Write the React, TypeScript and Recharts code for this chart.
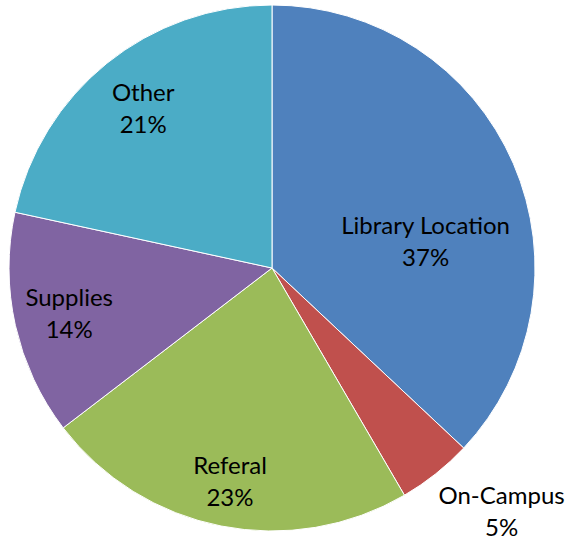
import React from 'react';
import { PieChart, Pie, Cell } from 'recharts';

const categories = ['Library Location', 'On-Campus', 'Referal', 'Supplies', 'Other'];
const values = [37, 4.6, 23, 13.8, 21.6];
const percentLabels = ['37%', '5%', '23%', '14%', '21%'];
const colors = ['#4F81BD', '#C0504D', '#9BBB59', '#8064A2', '#4BACC6'];

// label placement: radius factor and clockwise angle shift (deg) relative to slice mid angle
const labelRadius = [0.593, 1.27, 0.825, 0.79, 0.78];
const labelShift = [13.4, -4.9, 0, 0, 0];

const data = categories.map((name, i) => ({ name, value: values[i], pct: percentLabels[i] }));

const RAD = Math.PI / 180;

const renderLabel = (props: any) => {
  const { cx, cy, midAngle, outerRadius, index } = props;
  const ang = (midAngle - labelShift[index]) * RAD;
  const r = outerRadius * labelRadius[index];
  const x = cx + r * Math.cos(ang);
  const y = cy - r * Math.sin(ang);
  return (
    <text
      x={x}
      y={y}
      textAnchor="middle"
      fill="#000"
      fontFamily="Lato, 'Open Sans', sans-serif"
      fontSize={24}
    >
      <tspan x={x} dy={-7}>{categories[index]}</tspan>
      <tspan x={x} dy={32}>{percentLabels[index]}</tspan>
    </text>
  );
};

export default function App() {
  return (
    <div style={{ position: 'absolute', left: 0, top: 0, background: '#fff' }}>
      <PieChart width={571} height={544} margin={{ top: 0, right: 0, bottom: 0, left: 0 }}>
        <Pie
          data={data}
          dataKey="value"
          nameKey="name"
          cx={272}
          cy={268}
          outerRadius={263}
          startAngle={90}
          endAngle={-270}
          stroke="#ffffff"
          strokeWidth={1}
          label={renderLabel}
          labelLine={false}
          isAnimationActive={false}
        >
          {data.map((d, i) => (
            <Cell key={d.name} fill={colors[i]} />
          ))}
        </Pie>
      </PieChart>
    </div>
  );
}
